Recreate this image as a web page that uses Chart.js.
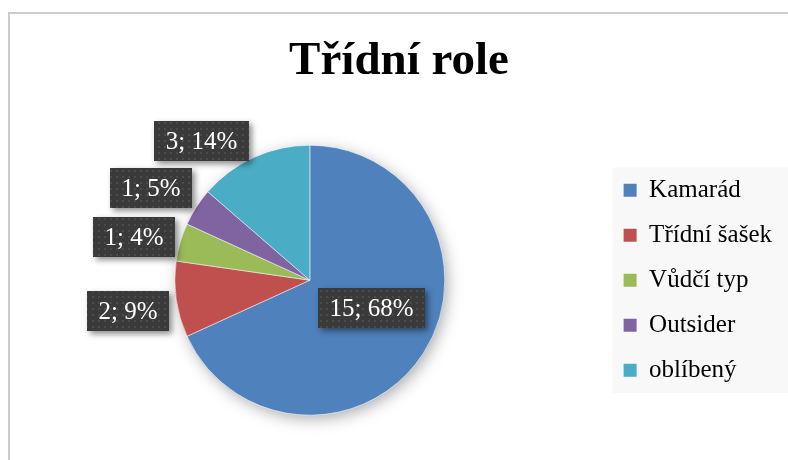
<!DOCTYPE html>
<html><head><meta charset="utf-8">
<script src="https://cdn.jsdelivr.net/npm/chart.js@4.4.1/dist/chart.umd.min.js"></script>
<style>html,body{margin:0;padding:0;background:#fff;overflow:hidden}#wrap{width:788px;height:460px;position:relative}</style>
</head><body><div id="wrap"><canvas id="c" width="788" height="460"></canvas></div>
<script>
const titleText = "Třídní role";
const categories = ["Kamarád", "Třídní šašek", "Vůdčí typ", "Outsider", "oblíbený"];
const counts = [15, 2, 1, 1, 3];
const percentLabels = ["68%", "9%", "4%", "5%", "14%"];
const colors = ["#4F81BD", "#C0504D", "#9BBB59", "#8064A2", "#4BACC6"];

const SERIF = '"Liberation Serif", "Times New Roman", serif';
// small manual label nudges (like Excel "best fit" placement), in px
const labelNudgeX = [1, -2, 0, 0, -3];
const labelNudgeY = [-3, 8, 2, -6, 6];

function makeDotPattern(ctx) {
  const p = document.createElement('canvas');
  p.width = 6; p.height = 6;
  const pc = p.getContext('2d');
  pc.fillStyle = '#3a3a3a';
  pc.fillRect(0, 0, 6, 6);
  pc.fillStyle = '#4b4b4b';
  pc.fillRect(2, 2, 2, 2);
  return ctx.createPattern(p, 'repeat');
}

const decor = {
  id: 'decor',
  beforeDraw(chart) {
    const ctx = chart.ctx;
    ctx.save();
    ctx.fillStyle = '#ffffff';
    ctx.fillRect(0, 0, chart.width, chart.height);
    ctx.fillStyle = '#cccccc';
    ctx.fillRect(8, 12, 2, chart.height - 12);
    ctx.fillRect(8, 12, chart.width - 8, 2);
    const lg = chart.legend;
    ctx.fillStyle = '#f8f8f8';
    ctx.fillRect(lg.left + 9, lg.top + 22, chart.width - lg.left - 9, lg.height - 44);
    ctx.restore();
  },
  beforeDatasetsDraw(chart) {
    const ctx = chart.ctx;
    const arc = chart.getDatasetMeta(0).data[0];
    if (!arc) return;
    ctx.save();
    ctx.shadowColor = 'rgba(0,0,0,0.35)';
    ctx.shadowBlur = 16;
    ctx.shadowOffsetX = 3;
    ctx.shadowOffsetY = 4;
    ctx.fillStyle = colors[0];
    ctx.beginPath();
    ctx.arc(arc.x, arc.y, arc.outerRadius - 1, 0, Math.PI * 2);
    ctx.fill();
    ctx.restore();
  },
  afterDatasetsDraw(chart) {
    const ctx = chart.ctx;
    const meta = chart.getDatasetMeta(0);
    const total = counts.reduce((a, b) => a + b, 0);
    const pattern = makeDotPattern(ctx);
    meta.data.forEach((arc, i) => {
      const { x, y, startAngle, endAngle, outerRadius } =
        arc.getProps(['x', 'y', 'startAngle', 'endAngle', 'outerRadius'], true);
      const mid = (startAngle + endAngle) / 2;
      const dx = Math.cos(mid), dy = Math.sin(mid);
      const text = counts[i] + '; ' + percentLabels[i];
      ctx.save();
      ctx.font = '25px ' + SERIF;
      const w = Math.round(ctx.measureText(text).width + 23), h = 40;
      let cx, cy;
      if (counts[i] / total > 0.25) {
        const p = arc.tooltipPosition(true);
        cx = p.x + 4; cy = p.y - 6;
      } else {
        const ax = x + dx * (outerRadius + 5), ay = y + dy * (outerRadius + 5);
        cx = ax + Math.sign(dx) * w / 2;
        cy = ay + dy * h / 2;
      }
      cx += labelNudgeX[i]; cy += labelNudgeY[i];
      const bx = Math.round(cx - w / 2), by = Math.round(cy - h / 2);
      ctx.shadowColor = 'rgba(0,0,0,0.45)';
      ctx.shadowBlur = 6;
      ctx.shadowOffsetX = 3;
      ctx.shadowOffsetY = 3;
      ctx.fillStyle = '#3a3a3a';
      ctx.fillRect(bx, by, w, h);
      ctx.shadowColor = 'transparent';
      ctx.fillStyle = pattern;
      ctx.fillRect(bx, by, w, h);
      ctx.fillStyle = '#ffffff';
      ctx.textAlign = 'center';
      ctx.textBaseline = 'middle';
      ctx.fillText(text, bx + w / 2, by + h / 2 + 1);
      ctx.restore();
    });
  }
};

new Chart(document.getElementById('c'), {
  type: 'pie',
  data: {
    labels: categories,
    datasets: [{
      data: counts,
      backgroundColor: colors,
      borderColor: 'rgba(255,255,255,0.55)',
      borderWidth: 1
    }]
  },
  options: {
    responsive: false,
    devicePixelRatio: 1,
    animation: false,
    radius: 135,
    layout: { padding: { left: 16, right: 6, top: 20, bottom: 45 } },
    plugins: {
      title: {
        display: true,
        text: titleText,
        color: '#000000',
        font: { family: SERIF, size: 47, weight: 'bold', lineHeight: 1.2 },
        padding: { top: 14, bottom: 55 }
      },
      legend: {
        position: 'right',
        fullSize: false,
        align: 'center',
        labels: {
          boxWidth: 13,
          boxHeight: 13,
          padding: 20,
          color: '#000000',
          font: { family: SERIF, size: 25 },
          generateLabels(chart) {
            return Chart.overrides.pie.plugins.legend.labels.generateLabels(chart)
              .map(l => Object.assign(l, { lineWidth: 0, strokeStyle: 'transparent' }));
          }
        }
      },
      tooltip: { enabled: false }
    }
  },
  plugins: [decor]
});
</script>
</body></html>
